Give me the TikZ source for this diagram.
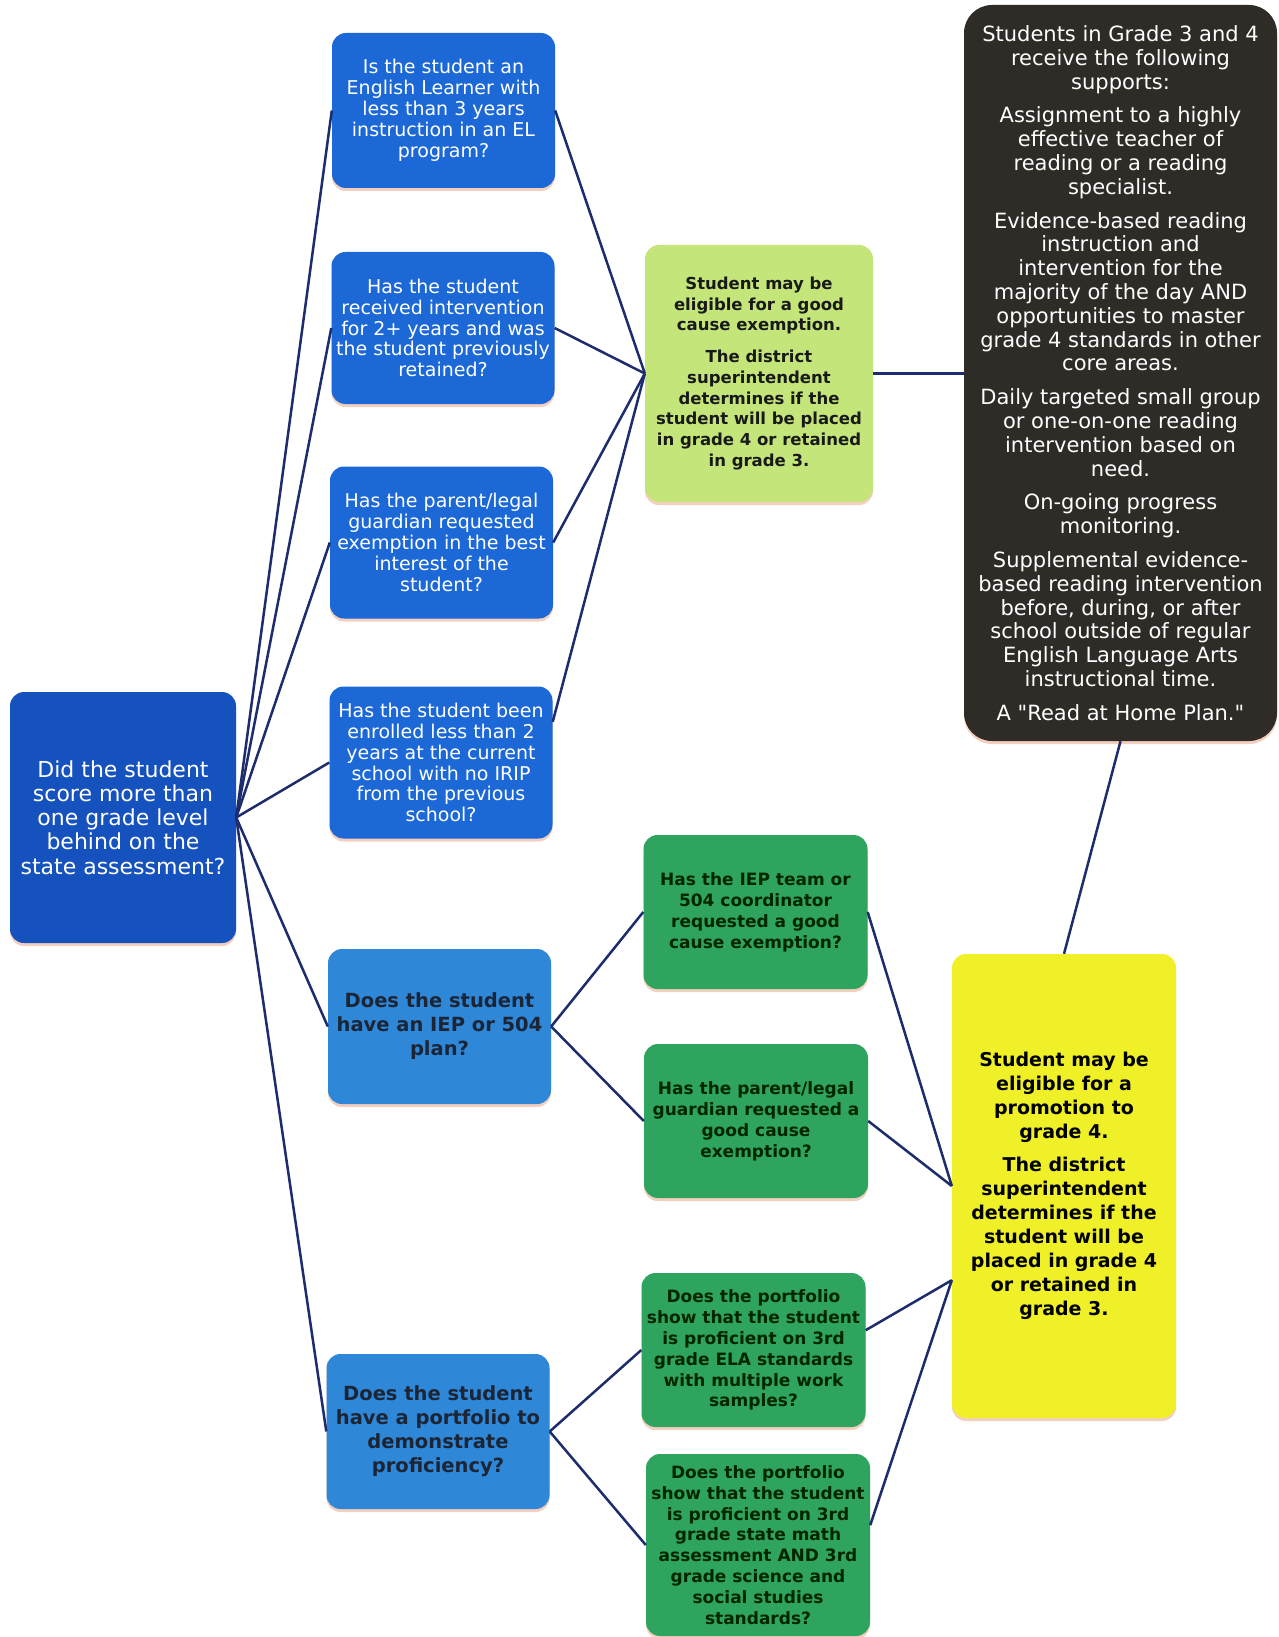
\documentclass[tikz,border=0pt]{standalone}
\usepackage{fontspec}
\setmainfont{DejaVu Sans}
\usetikzlibrary{shadows}
\newcommand\straightquote{\XeTeXglyph\XeTeXcharglyph"22\relax}
\definecolor{rootblue}{HTML}{1652BE}
\definecolor{qblue}{HTML}{1B68D6}
\definecolor{lblue}{HTML}{2F87D8}
\definecolor{lgreen}{HTML}{C4E57A}
\definecolor{mgreen}{HTML}{2FA45E}
\definecolor{yel}{HTML}{F0F028}
\definecolor{darkbox}{HTML}{2F2B27}
\definecolor{linkc}{HTML}{1C2C6C}
\definecolor{shad}{HTML}{E8A080}
\definecolor{darktxt}{HTML}{1B2535}
\begin{document}
\begin{tikzpicture}[x=1pt,y=-1pt,
  box/.style={rectangle, rounded corners=14pt, align=center, inner sep=2pt,
    drop shadow={shadow xshift=0pt, shadow yshift=-3pt, fill=shad, opacity=0.5}},
  rootbox/.style={box, fill=rootblue, text=white, font=\fontsize{22}{24.2}\selectfont},
  qbox/.style={box, fill=qblue, text=white, minimum width=223pt, minimum height=152pt,
    font=\fontsize{19}{20.9}\selectfont},
  pbox/.style={box, fill=lblue, text=darktxt, minimum width=223pt, minimum height=155pt,
    font=\bfseries\fontsize{19.5}{24}\selectfont},
  lgbox/.style={box, fill=lgreen, text=black!90, font=\bfseries\fontsize{16.5}{20.9}\selectfont},
  gbox/.style={box, fill=mgreen, text=black!85!green, minimum width=224pt, minimum height=154pt,
    font=\bfseries\fontsize{17}{20.9}\selectfont},
  ybox/.style={box, fill=yel, text=black, font=\bfseries\fontsize{19}{24}\selectfont},
  dbox/.style={box, rounded corners=28pt, fill=darkbox, text=white, font=\fontsize{21}{23.8}\selectfont},
  conn/.style={draw=linkc, line width=2.5pt}
]
\useasboundingbox[fill=white] (0,0) rectangle (1278,1637);

% root
\node[rootbox, minimum width=226pt, minimum height=251pt] (root) at (123,817.5)
  {Did the student\\score more than\\one grade level\\behind on the\\state assessment?};

% first column
\node[qbox, minimum height=155pt] (q1) at (443.5,110.5)
  {Is the student an\\English Learner with\\less than 3 years\\instruction in an EL\\program?};
\node[qbox] (q2) at (443,328)
  {Has the student\\received intervention\\for 2+ years and was\\the student previously\\retained?};
\node[qbox] (q3) at (441.5,542.5)
  {Has the parent/legal\\guardian requested\\exemption in the best\\interest of the\\student?};
\node[qbox] (q4) at (441,762.5)
  {Has the student been\\enrolled less than 2\\years at the current\\school with no IRIP\\from the previous\\school?};
\node[pbox] (q5) at (439.5,1026.5)
  {Does the student\\have an IEP or 504\\plan?};
\node[pbox] (q6) at (438,1431.5)
  {Does the student\\have a portfolio to\\demonstrate\\proficiency?};

% second column
\node[lgbox, minimum width=228pt, minimum height=257pt] (lg) at (759,373.5)
  {Student may be\\eligible for a good\\cause exemption.\\[10.4pt]The district\\superintendent\\determines if the\\student will be placed\\in grade 4 or retained\\in grade 3.};
\node[gbox] (g1) at (755.5,912)
  {Has the IEP team or\\504 coordinator\\requested a good\\cause exemption?};
\node[gbox] (g2) at (756,1121)
  {Has the parent/legal\\guardian requested a\\good cause\\exemption?};
\node[gbox] (g3) at (753.5,1350)
  {Does the portfolio\\show that the student\\is proficient on 3rd\\grade ELA standards\\with multiple work\\samples?};
\node[gbox, minimum height=182pt] (g4) at (758,1545)
  {Does the portfolio\\show that the student\\is proficient on 3rd\\grade state math\\assessment AND 3rd\\grade science and\\social studies\\standards?};

% right column
\node[dbox, minimum width=313pt, minimum height=736pt] (dk) at (1120.5,373)
  {Students in Grade 3 and 4\\receive the following\\supports:\\[10pt]
   Assignment to a highly\\effective teacher of\\reading or a reading\\specialist.\\[10pt]
   Evidence-based reading\\instruction and\\intervention for the\\majority of the day AND\\opportunities to master\\grade 4 standards in other\\core areas.\\[10pt]
   Daily targeted small group\\or one-on-one reading\\intervention based on\\need.\\[10pt]
   On-going progress\\monitoring.\\[10pt]
   Supplemental evidence-\\based reading intervention\\before, during, or after\\school outside of regular\\English Language Arts\\instructional time.\\[10pt]
   A \straightquote Read at Home Plan.\straightquote};
\node[ybox, minimum width=224pt, minimum height=464pt] (yb) at (1064,1186)
  {Student may be\\eligible for a\\promotion to\\grade 4.\\[8.4pt]The district\\superintendent\\determines if the\\student will be\\placed in grade 4\\or retained in\\grade 3.};

% connectors
\foreach \q in {q1,q2,q3,q4,q5,q6}
  \draw[conn] (root.east) -- (\q.west);
\draw[conn] (q1.east) -- (lg.west);
\draw[conn] (q2.east) -- (lg.west);
\draw[conn] (q3.east) -- (lg.west);
\draw[conn] (q4.20) -- (lg.west);
\draw[conn] (lg.east) -- (lg.east -| dk.west);
\draw[conn] (dk.south) -- (yb.north);
\draw[conn] (q5.east) -- (g1.west);
\draw[conn] (q5.east) -- (g2.west);
\draw[conn] (q6.east) -- (g3.west);
\draw[conn] (q6.east) -- (g4.west);
\draw[conn] (g1.east) -- (yb.west);
\draw[conn] (g2.east) -- (yb.west);
\draw[conn] (g3.10) -- (yb.220.6);
\draw[conn] (g4.10) -- (yb.220.6);
\end{tikzpicture}
\end{document}
